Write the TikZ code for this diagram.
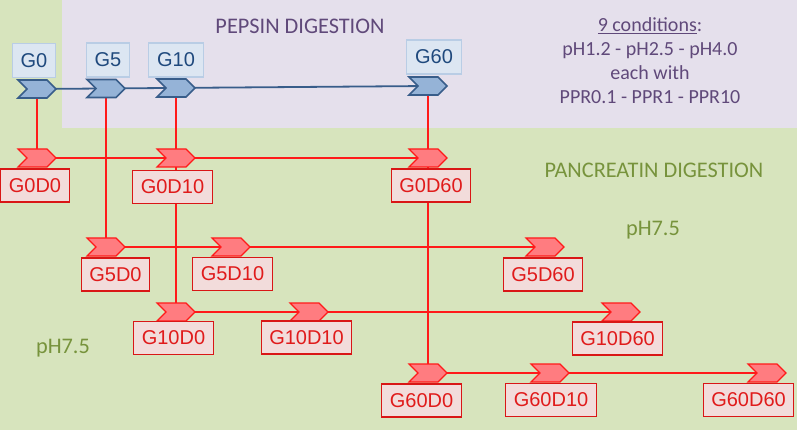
\documentclass[tikz,border=0pt]{standalone}
\usepackage{fontspec}
\setmainfont{Carlito}
\newfontfamily\arialf{Liberation Sans}
\usetikzlibrary{shapes.symbols}
\pgfdeclarelayer{bg}
\pgfdeclarelayer{lines}
\pgfsetlayers{bg,lines,main}
\definecolor{bggreen}{HTML}{D7E4BD}
\definecolor{bglav}{HTML}{E5E0EC}
\definecolor{purp}{HTML}{60497A}
\definecolor{olive}{HTML}{77933C}
\definecolor{bboxfill}{HTML}{DCE6F2}
\definecolor{bboxdraw}{HTML}{B9CDE5}
\definecolor{btext}{HTML}{1F497D}
\definecolor{bchevfill}{HTML}{95B3D7}
\definecolor{bdark}{HTML}{385D8A}
\definecolor{rline}{HTML}{FF1A1A}
\definecolor{rchevfill}{HTML}{FF7C80}
\definecolor{rboxfill}{HTML}{F2DCDB}
\definecolor{rtext}{HTML}{E01B1B}
\tikzset{
  chevB/.style={shape=signal, signal to=east, signal from=west, signal pointer angle=90,
    minimum width=38pt, minimum height=18pt, inner sep=0pt, fill=bchevfill, draw=bdark, line width=1.6pt},
  chevR/.style={shape=signal, signal to=east, signal from=west, signal pointer angle=90,
    minimum width=38pt, minimum height=18pt, inner sep=0pt, fill=rchevfill, draw=rline, line width=1.2pt},
  labB/.style={draw=bboxdraw, fill=bboxfill, line width=1.2pt, text=btext, font=\arialf\fontsize{20}{22}\selectfont,
    inner xsep=8.5pt, inner ysep=0pt, minimum height=34pt},
  labR/.style={draw=rline!85!black, fill=rboxfill, line width=1.1pt, text=rtext, font=\arialf\fontsize{20}{22}\selectfont,
    inner xsep=8pt, inner ysep=0pt, minimum height=33pt},
  bline/.style={draw=bdark, line width=1.8pt},
  rl/.style={draw=rline, line width=2pt},
  ttl/.style={font=\fontsize{22.3}{24}\selectfont, inner sep=0pt},
  cnd/.style={font=\fontsize{20}{24}\selectfont, inner sep=0pt}
}
\begin{document}
\begin{tikzpicture}[x=1pt,y=-1pt]
\begin{pgfonlayer}{bg}
\fill[bggreen] (0,0) rectangle (797,430);
\fill[bglav] (62,0) rectangle (797,128);
\end{pgfonlayer}
\useasboundingbox (0,0) rectangle (797,430);

% texts
\node[ttl, text=purp] (pepsin) at (300,26) {PEPSIN DIGESTION};
\node[cnd, text=purp, align=center] (cond) at (650,61) {\underline{9 conditions}:\\pH1.2 - pH2.5 - pH4.0\\each with\\PPR0.1 - PPR1 - PPR10};
\node[ttl, text=olive] (panc) at (654,170) {PANCREATIN DIGESTION};
\node[ttl, text=olive] (phA) at (653,230) {pH7.5};
\node[ttl, text=olive] (phB) at (63,348) {pH7.5};

% pepsin chevrons and labels
\node[chevB] (p0) at (37,89) {};
\node[chevB] (p5) at (106,88.5) {};
\node[chevB] (p10) at (176,88) {};
\node[chevB] (p60) at (428,86) {};
\node[labB] (lG0) at (34,60.5) {G0};
\node[labB] (lG5) at (108,60) {G5};
\node[labB] (lG10) at (176,60) {G10};
\node[labB] (lG60) at (434,57) {G60};

% pancreatin chevrons
\node[chevR] (r00) at (37,158) {};
\node[chevR] (r010) at (176,158) {};
\node[chevR] (r060) at (428,158) {};
\node[chevR] (r50) at (106,247) {};
\node[chevR] (r510) at (231,247) {};
\node[chevR] (r560) at (545,247) {};
\node[chevR] (r100) at (176,312) {};
\node[chevR] (r1010) at (309,312) {};
\node[chevR] (r1060) at (621,312) {};
\node[chevR] (r600) at (428,373) {};
\node[chevR] (r6010) at (550,373) {};
\node[chevR] (r6060) at (767,373) {};

% labels
\node[labR] (lG0D0) at (35,185.5) {G0D0};
\node[labR] (lG0D10) at (172.5,187) {G0D10};
\node[labR] (lG0D60) at (431,185.5) {G0D60};
\node[labR] (lG5D0) at (115.5,274.5) {G5D0};
\node[labR] (lG5D10) at (232.5,274) {G5D10};
\node[labR] (lG5D60) at (543,274.5) {G5D60};
\node[labR] (lG10D0) at (173.5,338) {G10D0};
\node[labR] (lG10D10) at (306.5,337.5) {G10D10};
\node[labR] (lG10D60) at (617.5,338.5) {G10D60};
\node[labR] (lG60D0) at (421.5,400.5) {G60D0};
\node[labR] (lG60D10) at (551,400) {G60D10};
\node[labR] (lG60D60) at (748.5,400) {G60D60};

\begin{pgfonlayer}{lines}
\draw[bline] (p0.center) -- (p60.center);
\draw[rl] (p0.center) -- (r00.center);
\draw[rl] (p5.center) -- (r50.center);
\draw[rl] (p10.center) -- (r100.center);
\draw[rl] (p60.center) -- (r600.center);
\draw[rl] (r00.center) -- (r060.center);
\draw[rl] (r50.center) -- (r560.center);
\draw[rl] (r100.center) -- (r1060.center);
\draw[rl] (r600.center) -- (r6060.center);
\end{pgfonlayer}
\end{tikzpicture}
\end{document}
